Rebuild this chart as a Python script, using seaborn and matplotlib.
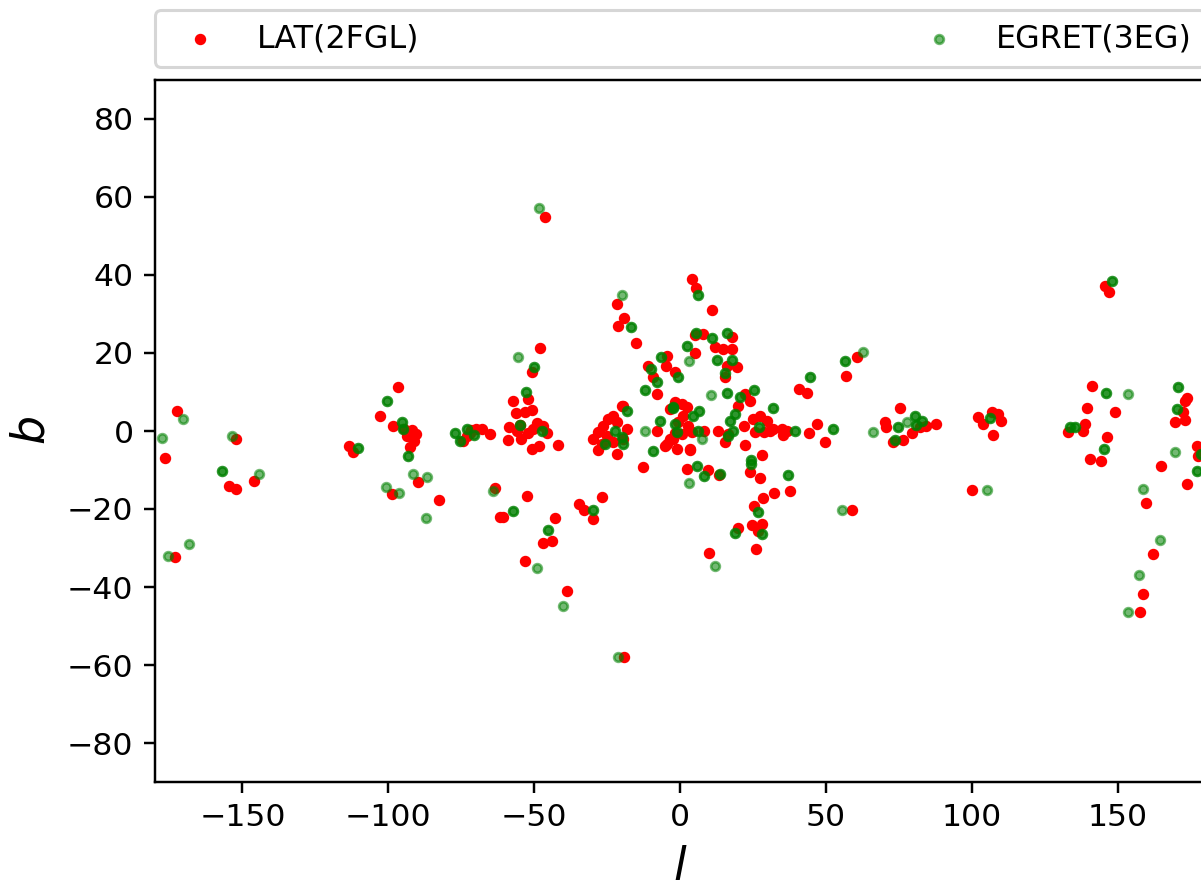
import numpy as np
import pandas as pd
import matplotlib
matplotlib.use('Agg')
import matplotlib.pyplot as plt
import seaborn as sns

# galactic coordinates (l, b)
lat_l = [-172.3, -176.7, -173.1, -152.2, -154.6, -152.3, -145.9,
         -113.5, -112.0,
         -96.8, -102.8, -98.3, -94.5, -91.8, -90.5, -91.2, -93.5, -92.5,
         -89.9, -98.6, -82.6,
         -74.5, -73.2, -71.5, -68.0, -65.0, -70.0, -72.0,
         -63.4, -61.7,
         -48.0, -50.6, -57.4, -52.0, -56.3, -53.1, -50.8,
         -58.5, -56.0, -50.3, -46.9, -45.7, -55.0, -52.0, -49.0,
         -58.9, -54.6, -50.8, -48.2, -41.9,
         -52.3, -60.6, -42.7, -46.9, -44.0, -53.0, -38.7,
         -46.4,
         -34.6, -32.9, -29.7, -26.8,
         -21.5, -19.2, -21.1, -15.2, -19.4,
         -29.7, -28.0, -26.3, -24.6, -22.9, -21.7, -18.3, -20.0, -19.4, -28.0, -26.8, -21.7, -25.1, -22.9,
         -19.1, -12.8,
         -7.8, -5.1, -3.4, -1.7, -8.0, -9.4, -10.9, -4.6, -4.9, -1.7,
         -3.4, -1.7, 0.6, 2.3, 1.1, -0.6, 2.8, 4.0, -4.6, -2.3, 0.6, -1.1, 3.4,
         5.1, 4.2, 5.5, 10.9, 5.1, 8.0, 12.0, 14.9, 17.7, 17.7, 16.0, 19.4, 15.4, 22.3, 24.0, 20.0,
         3.4, 2.3, 9.7, 13.4, 8.3, 13.1, 15.4, 16.6,
         22.0, 22.3, 25.1, 27.4, 29.7, 30.9, 28.8, 25.7, 32.0,
         34.9, 36.6, 35.2, 28.0, 24.0, 27.4, 28.6, 32.3, 25.4, 24.6, 28.0, 26.8, 20.0, 26.0, 9.8, 37.7,
         40.9, 43.6, 44.3, 47.1, 49.7, 56.9, 60.6, 59.1,
         75.4, 70.3, 70.6, 73.1, 76.5, 79.6, 82.3, 84.3, 87.8,
         102.3, 104.0, 106.9, 109.1, 109.9, 107.2, 100.1,
         133.1, 138.3, 138.8, 141.1, 139.6, 149.1, 146.3, 140.6, 144.2, 145.7, 147.2,
         173.1, 173.9, 172.3, 173.1, 169.7, 177.1, 177.7, 164.9, 173.7, 159.8, 162.0, 158.8, 157.7]
lat_b = [5.1, -6.8, -32.3, -2.1, -14.0, -15.0, -12.7,
         -3.8, -5.5,
         11.2, 3.9, 1.4, 0.5, 0.3, -0.8, -2.6, -1.2, -4.0,
         -13.2, -16.2, -17.7,
         -2.5, -1.4, 0.3, 0.5, -0.7, 0.6, -0.5,
         -14.7, -22.1,
         21.3, 15.0, 7.6, 8.2, 4.5, 4.8, 5.4,
         0.9, 0.1, 0.5, 1.4, -0.5, 1.5, -0.5, 2.0,
         -2.2, -2.1, -4.6, -3.9, -3.6,
         -16.6, -22.1, -22.4, -28.7, -28.3, -33.3, -40.9,
         54.8,
         -18.7, -20.2, -22.6, -17.0,
         32.6, 29.1, 27.0, 22.6, 6.5,
         -2.1, -0.3, 1.4, 3.1, 3.9, 2.2, 0.5, 6.5, -2.1, -5.0, -3.3, -5.9, -1.2, -2.9,
         -57.9, -9.3,
         -0.1, -3.8, -2.0, -0.5, 9.5, 13.8, 16.7, 19.3, 16.7, 15.2,
         5.6, 7.4, 6.9, 6.1, 3.9, 2.2, 1.4, -0.3, -3.3, -2.1, -0.8, -4.6, -4.6,
         19.9, 39.0, 36.6, 30.9, 24.6, 24.8, 21.5, 21.0, 21.0, 24.0, 16.7, 16.3, 13.8, 9.5, 7.8, 6.5,
         -4.9, -9.7, -9.9, -11.3, 0.1, 0.1, -2.9, -0.8,
         1.4, -3.6, 3.1, 3.9, 2.6, 0.1, -0.3, -0.3, 0.5,
         0.5, 0.1, -1.0, -6.2, -10.6, -12.1, -17.3, -16.0, -19.3, -24.1, -23.8, -25.6, -24.9, -30.3, -31.3, -15.5,
         10.8, 9.7, -0.5, 1.8, -2.7, 14.2, 18.9, -20.2,
         5.8, 2.2, 0.9, -2.9, -2.2, -0.5, 0.9, 1.4, 1.8,
         3.5, 1.8, 4.9, 4.4, 2.6, -1.0, -15.1,
         -0.3, 0.1, 1.8, 11.6, 5.8, 4.8, -1.6, -7.2, -7.8, 37.3, 35.7,
         7.8, 8.4, 4.8, 2.9, 2.4, -3.9, -6.5, -9.0, -13.6, -18.5, -31.5, -41.8, -46.5]

# EGRET sources drawn once (faint) and those that show up solid (strong)
egret_faint_l = [-177.6, -170.5, -175.4, -168.2, -153.5, -144.2, -91.4, -86.6, -100.8, -96.3, -87.2,
                 -64.2, -55.4, -49.1, -20.0, -12.0, 3.2, 7.4, 10.6, 62.6, 55.4, 66.0, 3.2, 12.1,
                 -48.3, -40.1, -21.4, 77.9, 105.1, 153.7, 169.7, 158.6, 164.5, 157.4, 153.5]
egret_faint_b = [-1.9, 3.1, -32.1, -29.0, -1.4, -11.0, -11.0, -11.9, -14.3, -15.9, -22.4,
                 -15.3, 18.9, -35.1, 34.9, 0.1, 17.9, -2.1, 9.3, 20.2, -20.2, -0.2, -13.4, -34.5,
                 57.2, -44.9, -58.0, 2.2, -15.1, 9.5, -5.3, -14.9, -27.9, -36.9, -46.3]
egret_strong_l = [-156.9, -100.3, -95.2, -95.0, -110.3, -93.1, -77.0, -75.5, -73.0, -70.5,
                  -50.0, -52.9, -54.9, -47.4, -57.1, -45.4, -29.9, -16.8, -18.3, -25.7, -22.3, -20.0, -19.4,
                  -12.0, -8.0, -10.0, -6.5, -0.6, 2.3, 6.3, 5.5, 10.9, 16.0, 12.8, 17.7, 15.4, 16.2, 20.6, 25.4,
                  -2.5, -6.9, -2.3, -1.7, -1.1, 4.6, 6.5, 6.3, 18.9, 17.1, 18.3, 16.6, 32.0, 27.2, 39.4,
                  44.6, 52.6, 56.6, -9.1, 5.7, 8.3, 13.7, 24.3, 24.2, 37.1, 26.8, 28.0, 18.9,
                  74.6, 73.7, 80.6, 82.9, 81.0, 106.3, 133.7, 135.4, 146.0, 145.4, 148.0, 170.8, 170.3, 177.1, 178.5]
egret_strong_b = [-10.2, 7.6, 2.2, 0.5, -4.4, -6.3, -0.5, -2.5, 0.5, -1.0,
                  16.5, 10.1, 1.5, 0.1, -20.4, -25.4, -20.3, 26.6, 5.2, -3.3, 0.1, -1.6, -3.3,
                  10.5, 12.5, 16.0, 19.0, 13.8, 21.9, 34.9, 25.1, 23.8, 25.1, 18.3, 18.3, 14.9, 9.7, 8.6, 10.5,
                  5.8, 2.6, 6.1, 1.8, -0.3, 3.9, 5.2, 0.1, 4.4, 2.6, 0.1, -1.2, 5.9, 0.9, 0.1,
                  13.8, 0.5, 18.0, -5.2, -8.9, -11.5, -11.0, -7.4, -8.5, -11.3, -20.7, -26.4, -26.2,
                  0.9, -2.2, 3.9, 2.6, 1.5, 3.3, 1.1, 0.9, 9.7, -4.6, 38.5, 11.4, 5.6, -10.2, -6.0]

x_ticks = [-150, -100, -50, 0, 50, 100, 150]
y_ticks = [-80, -60, -40, -20, 0, 20, 40, 60, 80]

lat = pd.DataFrame({'l': lat_l, 'b': lat_b})
egret = pd.DataFrame({'l': egret_faint_l + egret_strong_l, 'b': egret_faint_b + egret_strong_b})
egret_strong = pd.DataFrame({'l': egret_strong_l, 'b': egret_strong_b})

fig = plt.figure(figsize=(1201 / 220, 884 / 220), dpi=220)
ax = fig.add_axes([155 / 1201, 102 / 884, 1050 / 1201, 702 / 884])

sns.scatterplot(data=lat, x='l', y='b', color='red', edgecolor='red', s=8, linewidth=0.9,
                ax=ax, label='LAT(2FGL)')
sns.scatterplot(data=egret, x='l', y='b', color='green', edgecolor='green', s=8, linewidth=0.9,
                alpha=0.55, ax=ax, label='EGRET(3EG)')
# overlapping EGRET entries look solid
sns.scatterplot(data=egret_strong, x='l', y='b', color='green', edgecolor='green', s=8, linewidth=0.9,
                alpha=0.6, ax=ax)

ax.set_xlim(-180, 180)
ax.set_ylim(-90, 90)
ax.set_xticks(x_ticks)
ax.set_yticks(y_ticks)
ax.tick_params(labelsize=10.3)
ax.set_xlabel('$l$', fontsize=15)
ax.set_ylabel('$b$', fontsize=15)

ax.legend(bbox_to_anchor=(0., 1.018, 1., .102), loc='lower left', ncol=2, mode='expand',
          borderaxespad=0., fontsize=10.4, borderpad=0.42)

fig.savefig('out.png', dpi=220)
